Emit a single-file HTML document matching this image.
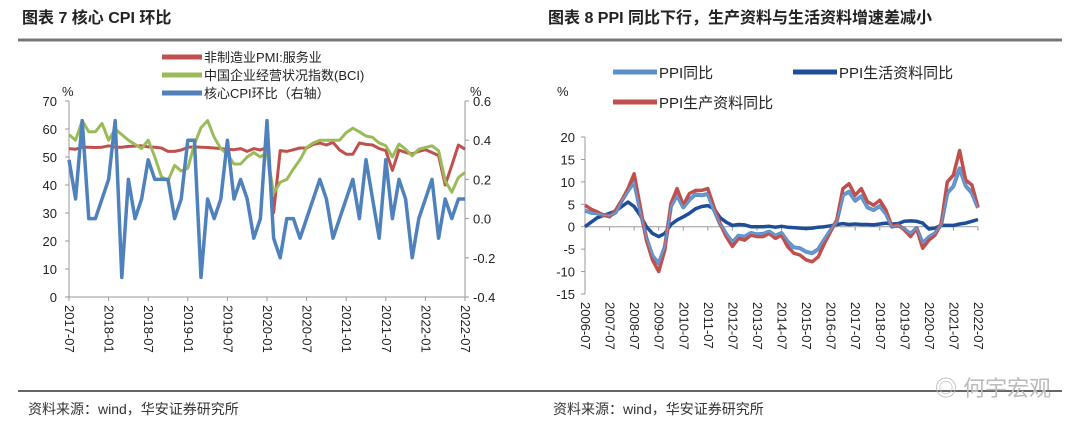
<!DOCTYPE html>
<html><head><meta charset="utf-8">
<style>
body{margin:0;background:#fff;}
svg{display:block;font-family:"Liberation Sans","Noto Sans CJK SC",sans-serif;}
</style></head>
<body>
<svg id="s" width="1080" height="435" viewBox="0 0 1080 435">
<text x="22" y="23" font-size="16" font-weight="bold" fill="#222">图表 7  核心 CPI 环比</text>
<text x="548" y="23" font-size="16" font-weight="bold" fill="#222">图表 8 PPI 同比下行，生产资料与生活资料增速差减小</text>
<line x1="18" y1="40" x2="1062" y2="40" stroke="#777" stroke-width="3"/>
<line x1="18" y1="391" x2="1062" y2="391" stroke="#333" stroke-width="1.5"/>
<text x="28" y="414" font-size="14" fill="#333">资料来源：wind，华安证券研究所</text>
<text x="553" y="414" font-size="14" fill="#333">资料来源：wind，华安证券研究所</text>
<text x="935" y="396" font-size="22" fill="#bbb">◎ 何宇宏观</text>
<g id="L"></g><g id="R"></g>
</svg>
<script>
// left chart data
const lMonths = ["2017-07","2018-01","2018-07","2019-01","2019-07","2020-01","2020-07","2021-01","2021-07","2022-01","2022-07"];
const pmiServ = [53,52.8,53.5,53.5,53.4,53.5,54,53.5,53.5,53.8,53.9,54,53.6,53.5,53.2,52,52,52.5,53.5,53.6,53.5,53.4,53.2,53,52.8,52.6,53,52,53,52.5,53.5,30.1,52.3,52,52.6,53.2,53.2,54.5,55,54.3,55.2,52.5,51,51,55,54.5,54.3,53,52.3,45.2,52.5,51.6,51.1,52,52.6,51.6,50.5,40,47,54.3,52.8];
const bciVals = [58,56,63,59,59,62,56,60,58,56,54.5,53,56,50,43,41.5,47,45,46,54.5,60.5,63,57,53,51,47.5,47.5,50,51.6,50,51.6,37,41,42,45.7,49,53.4,55,56,56,56,56,58.7,60.3,59,57.5,57,55,54,50,54.6,52.8,50.4,52.8,53.4,54,52.2,41.5,37.4,42.7,44.5];
const coreCpi = [0.3,0.1,0.5,0,0,0.1,0.2,0.5,-0.3,0.2,0,0.1,0.3,0.2,0.2,0.2,0,0.1,0.4,0.4,-0.3,0.1,0,0.1,0.4,0.1,0.2,0.1,-0.1,0,0.5,-0.1,-0.2,0,0,-0.1,0,0.1,0.2,0.1,-0.1,0,0.1,0.2,0,0.3,0.1,-0.1,0.3,0,0.2,0.1,-0.2,0,0.1,0.2,-0.1,0.1,0,0.1,0.1];
const lLeftTicks = [0,10,20,30,40,50,60,70];
const lRightTicks = [-0.4,-0.2,0.0,0.2,0.4,0.6];
// right chart data (quarterly from 2006 Q3)
const rYears = ["2006-07","2007-07","2008-07","2009-07","2010-07","2011-07","2012-07","2013-07","2014-07","2015-07","2016-07","2017-07","2018-07","2019-07","2020-07","2021-07","2022-07"];
const ppiProd = [4.8,3.9,3.3,2.6,2.2,3.7,5.9,8.5,11.8,4.4,-3,-7.4,-10,-5.2,5.2,8.5,4.8,7.4,8.1,8.1,8.5,4.4,0.7,-2.2,-4.4,-2.6,-3,-1.9,-2.2,-2.2,-1.5,-2.6,-1.9,-4.4,-5.9,-6.3,-7.4,-7.8,-6.7,-3.7,-1.1,1.5,8.5,9.6,7,8.5,5.6,4.8,5.9,3.7,0,0.4,-0.7,-2.2,-0.4,-4.8,-3,-1.9,0.7,10,11.5,17,10.4,9.3,4.4];
const ppiAll = [3.6,3.1,3,2.6,2.4,3.2,5.8,8,10,3.5,-2.5,-6.5,-8.2,-4.5,4.6,7,4.3,6,7.2,7,7.3,3.7,0.6,-1.6,-3.5,-2,-2.2,-1.4,-1.7,-1.6,-1.1,-2,-1.4,-3.3,-4.6,-4.8,-5.6,-5.9,-5,-2.8,-0.8,1.2,7,7.8,5.8,6.8,4.3,3.7,4.6,2.9,0,0.3,-0.5,-1.6,-0.3,-3.7,-2.3,-1.5,0.5,7.5,9,13,9.1,7.5,4.2];
const ppiCons = [0,1,2,2.5,3,3.5,4.5,5.5,4.5,2.5,0,-1.5,-2.2,-1.5,0.5,1.5,2.2,3,4,4.5,4.7,4,2,1,0.3,0.5,0.4,0,0,0,0.1,-0.1,0.1,-0.1,-0.2,-0.3,-0.4,-0.3,-0.1,0,0.2,0.5,0.7,0.5,0.6,0.5,0.5,0.4,0.6,0.8,0.6,0.7,1.2,1.3,1.2,0.8,-0.5,-0.3,0.3,0.3,0.3,0.6,0.8,1.2,1.6];
const rTicks = [-15,-10,-5,0,5,10,15,20];

const NS="http://www.w3.org/2000/svg";
function mk(parent,tag,attrs){const e=document.createElementNS(NS,tag);for(const k in attrs)e.setAttribute(k,attrs[k]);parent.appendChild(e);return e;}
const L=document.getElementById('L'), R=document.getElementById('R');

// ---- left chart ----
const lx0=69,lx1=465,ly0=297,ly1=101;
const lX=i=>lx0+(lx1-lx0)*i/(coreCpi.length-1);
const lY=v=>ly0-(v/70)*(ly0-ly1);
const lY2=v=>ly0-((v+0.4)/1.0)*(ly0-ly1);
let a=mk(L,'line',{x1:lx0,y1:ly1,x2:lx0,y2:ly0,stroke:'#999'});

a=mk(L,'line',{x1:lx1,y1:ly1,x2:lx1,y2:ly0,stroke:'#999'});

a=mk(L,'line',{x1:lx0,y1:ly0,x2:lx1,y2:ly0,stroke:'#999'});

lLeftTicks.forEach(v=>{const y=lY(v);mk(L,'line',{x1:lx0-4,y1:y,x2:lx0,y2:y,stroke:'#999'});
 const t=mk(L,'text',{x:lx0-12,y:y+5,'font-size':13,'text-anchor':'end',fill:'#222'});t.textContent=v;
 });
lRightTicks.forEach(v=>{const y=lY2(v);mk(L,'line',{x1:lx1,y1:y,x2:lx1+4,y2:y,stroke:'#999'});
 const t=mk(L,'text',{x:lx1+8,y:y+5,'font-size':13,fill:'#222'});t.textContent=v.toFixed(1);
 });
lMonths.forEach((m,k)=>{const x=lX(k*6);mk(L,'line',{x1:x,y1:ly0,x2:x,y2:ly0+4,stroke:'#999'});
 const t=mk(L,'text',{x:0,y:0,'font-size':13,fill:'#222',transform:`translate(${x-4},${ly0+8}) rotate(90)`});t.textContent=m;
 });
let t=mk(L,'text',{x:62,y:96,'font-size':13,fill:'#222'});t.textContent='%';

t=mk(L,'text',{x:470,y:96,'font-size':13,fill:'#222'});t.textContent='%';

function poly(g,vals,fx,fy,color,w,name){const p=vals.map((v,i)=>fx(i).toFixed(1)+','+fy(v).toFixed(1)).join(' ');
 const e=mk(g,'polyline',{points:p,fill:'none',stroke:color,'stroke-width':w,'stroke-linejoin':'round'});
 }
poly(L,pmiServ,lX,lY,'#c0504d',3,'pmi-services-line');
poly(L,bciVals,lX,lY,'#9bbb59',3,'bci-line');
poly(L,coreCpi,lX,lY2,'#4f81bd',3.5,'core-cpi-line');
[['非制造业PMI:服务业','#c0504d',57],['中国企业经营状况指数(BCI)','#9bbb59',75],['核心CPI环比（右轴）','#4f81bd',93]].forEach(([lab,c,y])=>{
 const g=mk(L,'g',{});
 mk(g,'line',{x1:162,y1:y,x2:202,y2:y,stroke:c,'stroke-width':5});
 const tt=mk(g,'text',{x:204,y:y+5,'font-size':13,fill:'#222'});tt.textContent=lab;});

// ---- right chart ----
const rx0=585,rx1=978,ry0=294,ry1=137;
const rX=i=>rx0+(rx1-rx0)*i/(ppiProd.length-1);
const rY=v=>ry0-((v+15)/35)*(ry0-ry1);
a=mk(R,'line',{x1:rx0,y1:ry1,x2:rx0,y2:ry0,stroke:'#999'});

a=mk(R,'line',{x1:rx0,y1:rY(0),x2:rx1,y2:rY(0),stroke:'#999'});

rTicks.forEach(v=>{const y=rY(v);mk(R,'line',{x1:rx0-4,y1:y,x2:rx0,y2:y,stroke:'#999'});
 const tt=mk(R,'text',{x:rx0-10,y:y+5,'font-size':13,'text-anchor':'end',fill:'#222'});tt.textContent=v;
 });
rYears.forEach((m,k)=>{const x=rX(k*4);mk(R,'line',{x1:x,y1:rY(0),x2:x,y2:rY(0)+4,stroke:'#999'});
 const tt=mk(R,'text',{x:0,y:0,'font-size':13,fill:'#222',transform:`translate(${x-4},${ry0+8}) rotate(90)`});tt.textContent=m;
 });
t=mk(R,'text',{x:557,y:96,'font-size':13,fill:'#222'});t.textContent='%';

poly(R,ppiCons,rX,rY,'#1f4e99',3.5,'ppi-consumer-line');
poly(R,ppiAll,rX,rY,'#5b8fc9',4,'ppi-all-line');
poly(R,ppiProd,rX,rY,'#c0504d',3.5,'ppi-producer-line');
poly(R,ppiAll,rX,rY,'#6a9bd1',1.5,'ppi-all-overlay');
[['PPI同比','#5b8fc9',613,72],['PPI生活资料同比','#1f4e99',793,72],['PPI生产资料同比','#c0504d',613,102]].forEach(([lab,c,x,y])=>{
 const g=mk(R,'g',{});
 mk(g,'line',{x1:x,y1:y,x2:x+44,y2:y,stroke:c,'stroke-width':5});
 const tt=mk(g,'text',{x:x+46,y:y+6,'font-size':15,fill:'#222'});tt.textContent=lab;});
</script>
</body></html>
